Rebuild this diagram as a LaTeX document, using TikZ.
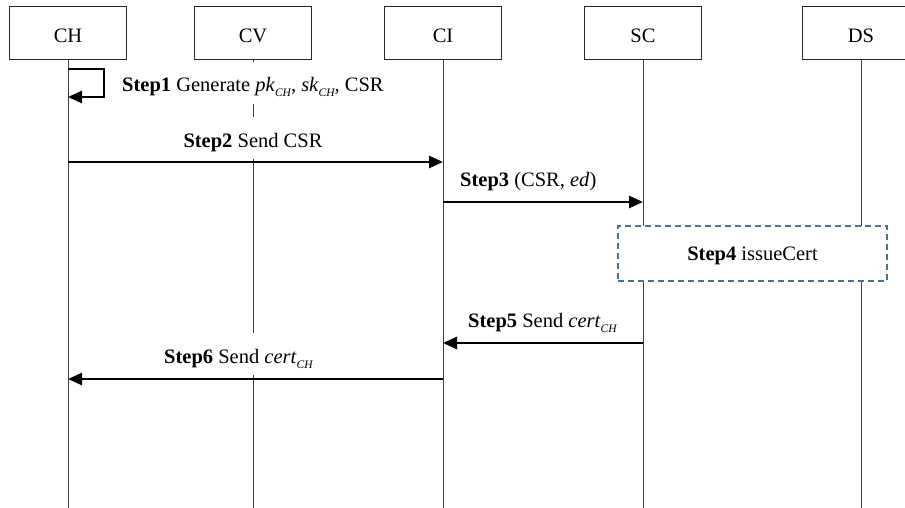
\documentclass[tikz,border=0pt]{standalone}
\usepackage{fontspec}
\setmainfont{Liberation Serif}
\usetikzlibrary{arrows.meta}
\newcommand\diaglabfont{\fontsize{20.5}{24}\selectfont}
\newcommand\sbs[1]{\raisebox{-5pt}{\fontsize{11.5}{12}\selectfont\itshape #1}}
\definecolor{dashblue}{RGB}{70,110,175}
\begin{document}
\begin{tikzpicture}[x=1pt,y=-1pt,
  actor/.style={draw=black!85, line width=1pt, minimum width=117pt, minimum height=53pt,
                inner sep=0pt, font=\diaglabfont, text height=22pt, text depth=3pt},
  life/.style={draw=black!75, line width=1pt},
  msg/.style={line width=2.6pt, line join=miter, -{Triangle[length=14pt,width=12pt]}},
  lab/.style={font=\diaglabfont, inner sep=0pt},
  labw/.style={lab, fill=white, text height=26pt, text depth=8pt, inner xsep=2pt, inner ysep=4pt},
  procbox/.style={draw=dashblue, dashed, dash pattern=on 6pt off 4pt, line width=1.3pt,
                  fill=white, minimum width=269pt, minimum height=55pt, font=\diaglabfont,
                  inner sep=0pt, text height=14pt, text depth=0pt}
]
\useasboundingbox (0,0) rectangle (905,508);

% actors
\node[actor] (CH) at (68,33.5) {CH};
\node[actor] (CV) at (253,33.5) {CV};
\node[actor] (CI) at (443,33.5) {CI};
\node[actor] (SC) at (643,33.5) {SC};
\node[actor] (DS) at (861,33.5) {DS};

% lifeline ends
\coordinate (CHe) at (68,508);
\coordinate (CVe) at (253,508);
\coordinate (CIe) at (443,508);
\coordinate (SCe) at (643,508);
\coordinate (DSe) at (861,508);

\draw[life] (CH.south) -- (CHe);
\draw[life] (CV.south) -- (CVe);
\draw[life] (CI.south) -- (CIe);
\draw[life] (SC.south) -- (SCe);
\draw[life] (DS.south) -- (DSe);

% Step 1 self loop
\coordinate (s1a) at (68,69);
\coordinate (s1b) at (104,69);
\coordinate (s1c) at (104,97);
\coordinate (s1d) at (68,97);
\draw[msg] (s1a) -- (s1b) -- (s1c) -- (s1d);
\node[labw, anchor=base west] (l1) at (120,92)
  {\textbf{Step1} Generate \textit{pk}\sbs{CH}, \textit{sk}\sbs{CH}, CSR};

% Step 2
\coordinate (s2a) at (68,162);
\coordinate (s2b) at (443,162);
\node[labw, anchor=base] (l2) at (253,147) {\textbf{Step2} Send CSR};
\draw[msg] (s2a) -- (s2b);

% Step 3
\coordinate (s3a) at (443,202);
\coordinate (s3b) at (643,202);
\node[lab, anchor=base west] (l3) at (460,186) {\textbf{Step3} (CSR, \textit{ed})};
\draw[msg] (s3a) -- (s3b);

% Step 4
\node[procbox] (s4) at (752.5,253.5) {\textbf{Step4} issueCert\hspace{24pt}};

% Step 5
\coordinate (s5a) at (643,343);
\coordinate (s5b) at (443,343);
\node[lab, anchor=base west] (l5) at (468,327) {\textbf{Step5} Send \textit{cert}\sbs{CH}};
\draw[msg] (s5a) -- (s5b);

% Step 6
\coordinate (s6a) at (443,379);
\coordinate (s6b) at (68,379);
\node[labw, anchor=base west] (l6) at (162,363) {\textbf{Step6} Send \textit{cert}\sbs{CH}};
\draw[msg] (s6a) -- (s6b);
\end{tikzpicture}
\end{document}
